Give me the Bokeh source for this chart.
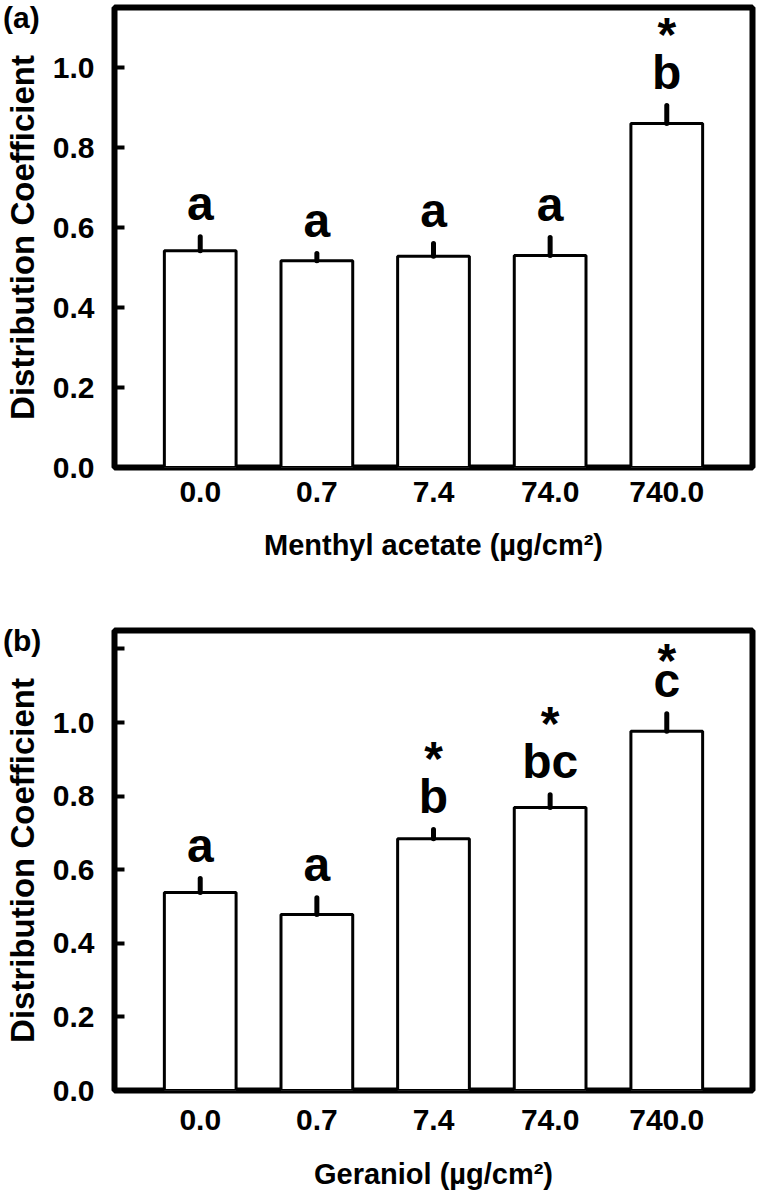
from bokeh.plotting import figure
from bokeh.layouts import column
from bokeh.models import Range1d, FixedTicker, PrintfTickFormatter, ColumnDataSource, Div
from bokeh.embed import file_html
from bokeh.resources import INLINE
from bokeh.core.properties import value

# ---- data ----
doses = ["0.0", "0.7", "7.4", "74.0", "740.0"]

menthyl_mean = [0.542, 0.517, 0.528, 0.530, 0.860]
menthyl_err = [0.035, 0.018, 0.032, 0.045, 0.045]
menthyl_letters = ["a", "a", "a", "a", "b"]
menthyl_sig = ["", "", "", "", "*"]

geraniol_mean = [0.538, 0.478, 0.684, 0.769, 0.976]
geraniol_err = [0.038, 0.046, 0.025, 0.035, 0.048]
geraniol_letters = ["a", "a", "b", "bc", "c"]
geraniol_sig = ["", "", "*", "*", "*"]

y_ticks_a = [0.0, 0.2, 0.4, 0.6, 0.8, 1.0]
y_ticks_b = [0.0, 0.2, 0.4, 0.6, 0.8, 1.0, 1.2]

FONT = "Liberation Sans"
LETTER_OFF = -33


def make_tag(tag, top_gap):
    """Panel tag; the following panel is pulled up over it (transparent border)."""
    return Div(text=tag, width=60, height=36, margin=(top_gap, 0, 0, 3),
               styles={"font-family": FONT, "font-weight": "bold",
                       "font-size": "30px", "line-height": "36px", "color": "black"})


def make_panel(xlabel, means, errs, letters, sig, y_end, yticks,
               height, border_top, border_bottom, tick_standoff, label_standoff, pull):
    p = figure(width=758, height=height,
               x_range=Range1d(-0.735, 4.735), y_range=Range1d(0, y_end),
               output_backend="svg", toolbar_location=None,
               min_border_left=113, min_border_right=6,
               min_border_top=border_top, min_border_bottom=border_bottom,
               margin=(-pull, 0, 0, 0))
    p.background_fill_color = "white"
    p.border_fill_alpha = 0
    p.outline_line_color = "black"
    p.outline_line_width = 6
    p.outline_line_alpha = 1.0
    p.xgrid.visible = False
    p.ygrid.visible = False

    xs = list(range(len(doses)))
    tops = [m + e for m, e in zip(means, errs)]
    # the asterisk sits lower above letters without ascenders
    star_off = [LETTER_OFF - (38 if any(c in "bdfhklt" for c in l) else 20) for l in letters]
    src = ColumnDataSource(dict(x=xs, mean=means, top=tops, letter=letters, sig=sig,
                                star_off=star_off))

    p.vbar(x="x", top="mean", bottom=0, width=0.615, source=src,
           fill_color="white", line_color="black", line_width=3)
    p.segment(x0="x", y0="mean", x1="x", y1="top", source=src,
              line_color="black", line_width=5, line_cap="round")
    p.text(x="x", y="top", text="letter", source=src,
           text_font=value(FONT), text_font_style="bold", text_font_size="48px",
           text_align="center", text_baseline="alphabetic", y_offset=LETTER_OFF,
           text_color="black")
    p.text(x="x", y="top", text="sig", source=src,
           text_font=value(FONT), text_font_style="bold", text_font_size="48px",
           text_align="center", text_baseline="alphabetic", y_offset="star_off",
           text_color="black")

    # x axis
    xa = p.xaxis[0]
    xa.ticker = FixedTicker(ticks=xs)
    xa.major_label_overrides = {i: d for i, d in enumerate(doses)}
    xa.major_tick_line_color = None
    xa.minor_tick_line_color = None
    xa.axis_line_color = None
    xa.major_label_text_font = FONT
    xa.major_label_text_font_style = "bold"
    xa.major_label_text_font_size = "30px"
    xa.major_label_text_color = "black"
    xa.major_label_standoff = tick_standoff
    xa.axis_label = xlabel
    xa.axis_label_text_font = FONT
    xa.axis_label_text_font_style = "bold"
    xa.axis_label_text_font_size = "29px"
    xa.axis_label_text_color = "black"
    xa.axis_label_standoff = label_standoff

    # y axis
    ya = p.yaxis[0]
    ya.ticker = FixedTicker(ticks=yticks)
    ya.formatter = PrintfTickFormatter(format="%.1f")
    if 1.2 in yticks:
        ya.major_label_overrides = {1.2: ""}
    ya.major_tick_in = 10
    ya.major_tick_out = 0
    ya.major_tick_line_width = 4
    ya.major_tick_line_color = "black"
    ya.minor_tick_line_color = None
    ya.axis_line_color = None
    ya.major_label_text_font = FONT
    ya.major_label_text_font_style = "bold"
    ya.major_label_text_font_size = "30px"
    ya.major_label_text_color = "black"
    ya.major_label_standoff = 20
    ya.axis_label = "Distribution Coefficient"
    ya.axis_label_text_font = FONT
    ya.axis_label_text_font_style = "bold"
    ya.axis_label_text_font_size = "33px"
    ya.axis_label_text_color = "black"
    ya.axis_label_standoff = 9
    return p


tag_a = make_tag("(a)", 0)
pa = make_panel("Menthyl acetate (\u00b5g/cm\u00b2)",
                menthyl_mean, menthyl_err, menthyl_letters, menthyl_sig,
                1.15, y_ticks_a, 600, 7, 133, 8, 24, 36)
tag_b = make_tag("(b)", 23)
pb = make_panel("Geraniol (\u00b5g/cm\u00b2)",
                geraniol_mean, geraniol_err, geraniol_letters, geraniol_sig,
                1.25, y_ticks_b, 600, 30, 110, 13, 25, 59)

layout = column(tag_a, pa, tag_b, pb, spacing=0)
open("out.html", "w").write(file_html(layout, INLINE))
